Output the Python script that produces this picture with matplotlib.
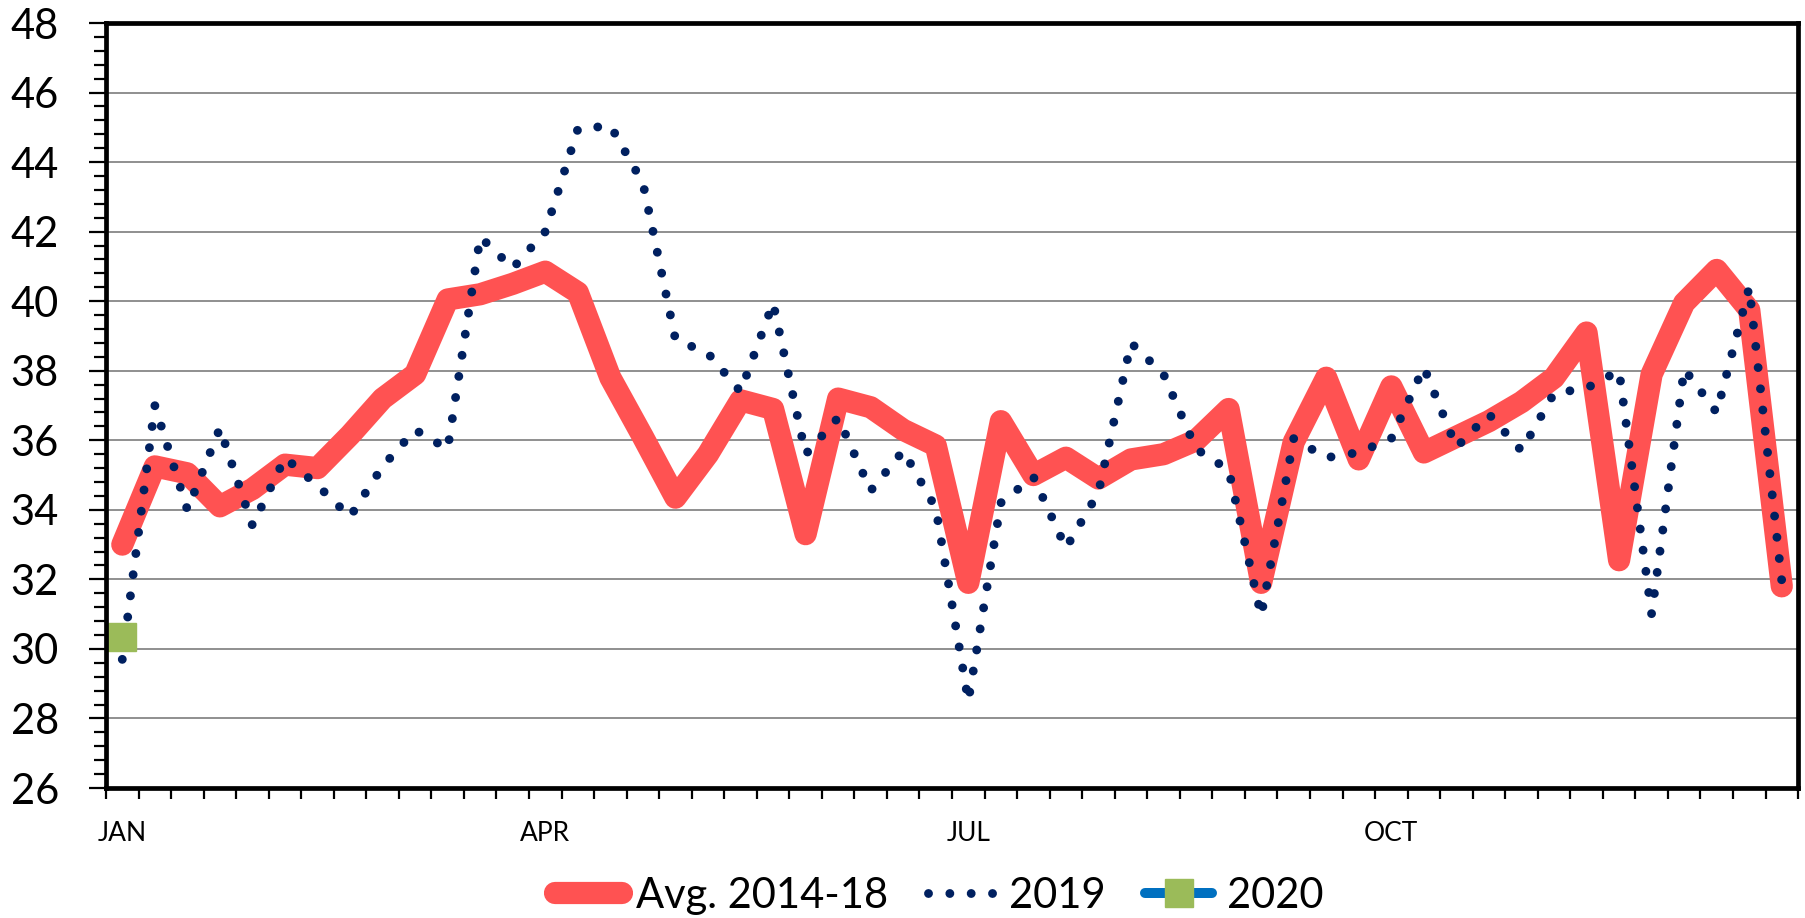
import matplotlib
matplotlib.use("Agg")
import matplotlib.pyplot as plt
from matplotlib.ticker import MultipleLocator, FixedLocator

plt.rcParams['font.family'] = ['Lato', 'DejaVu Sans']

weeks = list(range(52))
avg_2014_18 = [33.0, 35.25, 35.05, 34.1, 34.6, 35.3, 35.2, 36.15, 37.2, 37.9,
               40.05, 40.2, 40.5, 40.85, 40.25, 37.8, 36.1, 34.35, 35.6, 37.15,
               36.9, 33.3, 37.2, 36.95, 36.3, 35.85, 31.9, 36.55, 35.0, 35.5,
               34.9, 35.45, 35.6, 36.0, 36.9, 31.9, 35.95, 37.8, 35.45, 37.55,
               35.65, 36.1, 36.55, 37.1, 37.8, 39.1, 32.55, 37.9, 39.95, 40.9,
               39.75, 31.8]
y2019 = [29.7, 37.0, 34.0, 36.35, 33.55, 35.5, 34.7, 33.8, 35.25, 36.3,
         35.75, 41.85, 40.95, 42.0, 44.95, 45.05, 43.4, 38.9, 38.5, 37.4,
         39.95, 35.6, 36.65, 34.55, 35.7, 34.05, 28.5, 34.2, 34.95, 32.9,
         34.5, 38.8, 37.9, 35.75, 35.15, 30.95, 36.05, 35.5, 35.65, 36.05,
         38.1, 35.8, 36.75, 35.7, 37.35, 37.5, 38.0, 31.0, 38.05, 36.8,
         40.4, 31.95]
weeks_2020 = [0]
y2020 = [30.35]

month_pos = [0, 13, 26, 39]
month_labels = ['JAN', 'APR', 'JUL', 'OCT']
y_ticks = list(range(26, 49, 2))

fig = plt.figure(figsize=(18.06, 9.18), dpi=100)
ax = fig.add_axes([0.0587, 0.1416, 0.9956 - 0.0587, 0.9749 - 0.1416])

ax.plot(weeks, avg_2014_18, color='#FF5252', lw=16, solid_capstyle='round',
        solid_joinstyle='round', label='Avg. 2014-18', zorder=3)
ax.plot(weeks, y2019, color='#002060', lw=6.4, linestyle=(0, (0.001, 2.4)),
        dash_capstyle='round', label='2019', zorder=4)
ax.plot(weeks_2020, y2020, color='#0070C0', lw=7.2, solid_capstyle='round',
        marker='s', markersize=20.5, markerfacecolor='#9BBB59',
        markeredgecolor='#9BBB59', label='2020', zorder=5, clip_on=False)

ax.set_xlim(-0.5, 51.5)
ax.set_ylim(26, 48)

ax.yaxis.set_major_locator(FixedLocator(y_ticks))
ax.yaxis.set_minor_locator(MultipleLocator(0.4))
ax.tick_params(axis='y', which='major', direction='out', length=12, width=1.6,
               labelsize=30, pad=22)
ax.tick_params(axis='y', which='minor', direction='out', length=9, width=1.6)

ax.set_xticks(month_pos)
ax.set_xticklabels(month_labels)
ax.xaxis.set_minor_locator(FixedLocator([w - 0.5 for w in range(53)]))
ax.tick_params(axis='x', which='major', length=0, labelsize=19, pad=24)
ax.tick_params(axis='x', which='minor', direction='out', length=8, width=1.6)

ax.grid(axis='y', which='major', color='#878787', lw=1.3, zorder=1)
ax.set_axisbelow(True)
for s in ax.spines.values():
    s.set_linewidth(3.4)
    s.set_color('black')
    s.set_zorder(6)

leg = fig.legend(loc='center', bbox_to_anchor=(0.52, 0.024), ncol=3,
                 frameon=False, fontsize=30, handlelength=1.6,
                 handletextpad=0.35, columnspacing=0.95, borderpad=0.1)

fig.savefig('out.png', dpi=100)
